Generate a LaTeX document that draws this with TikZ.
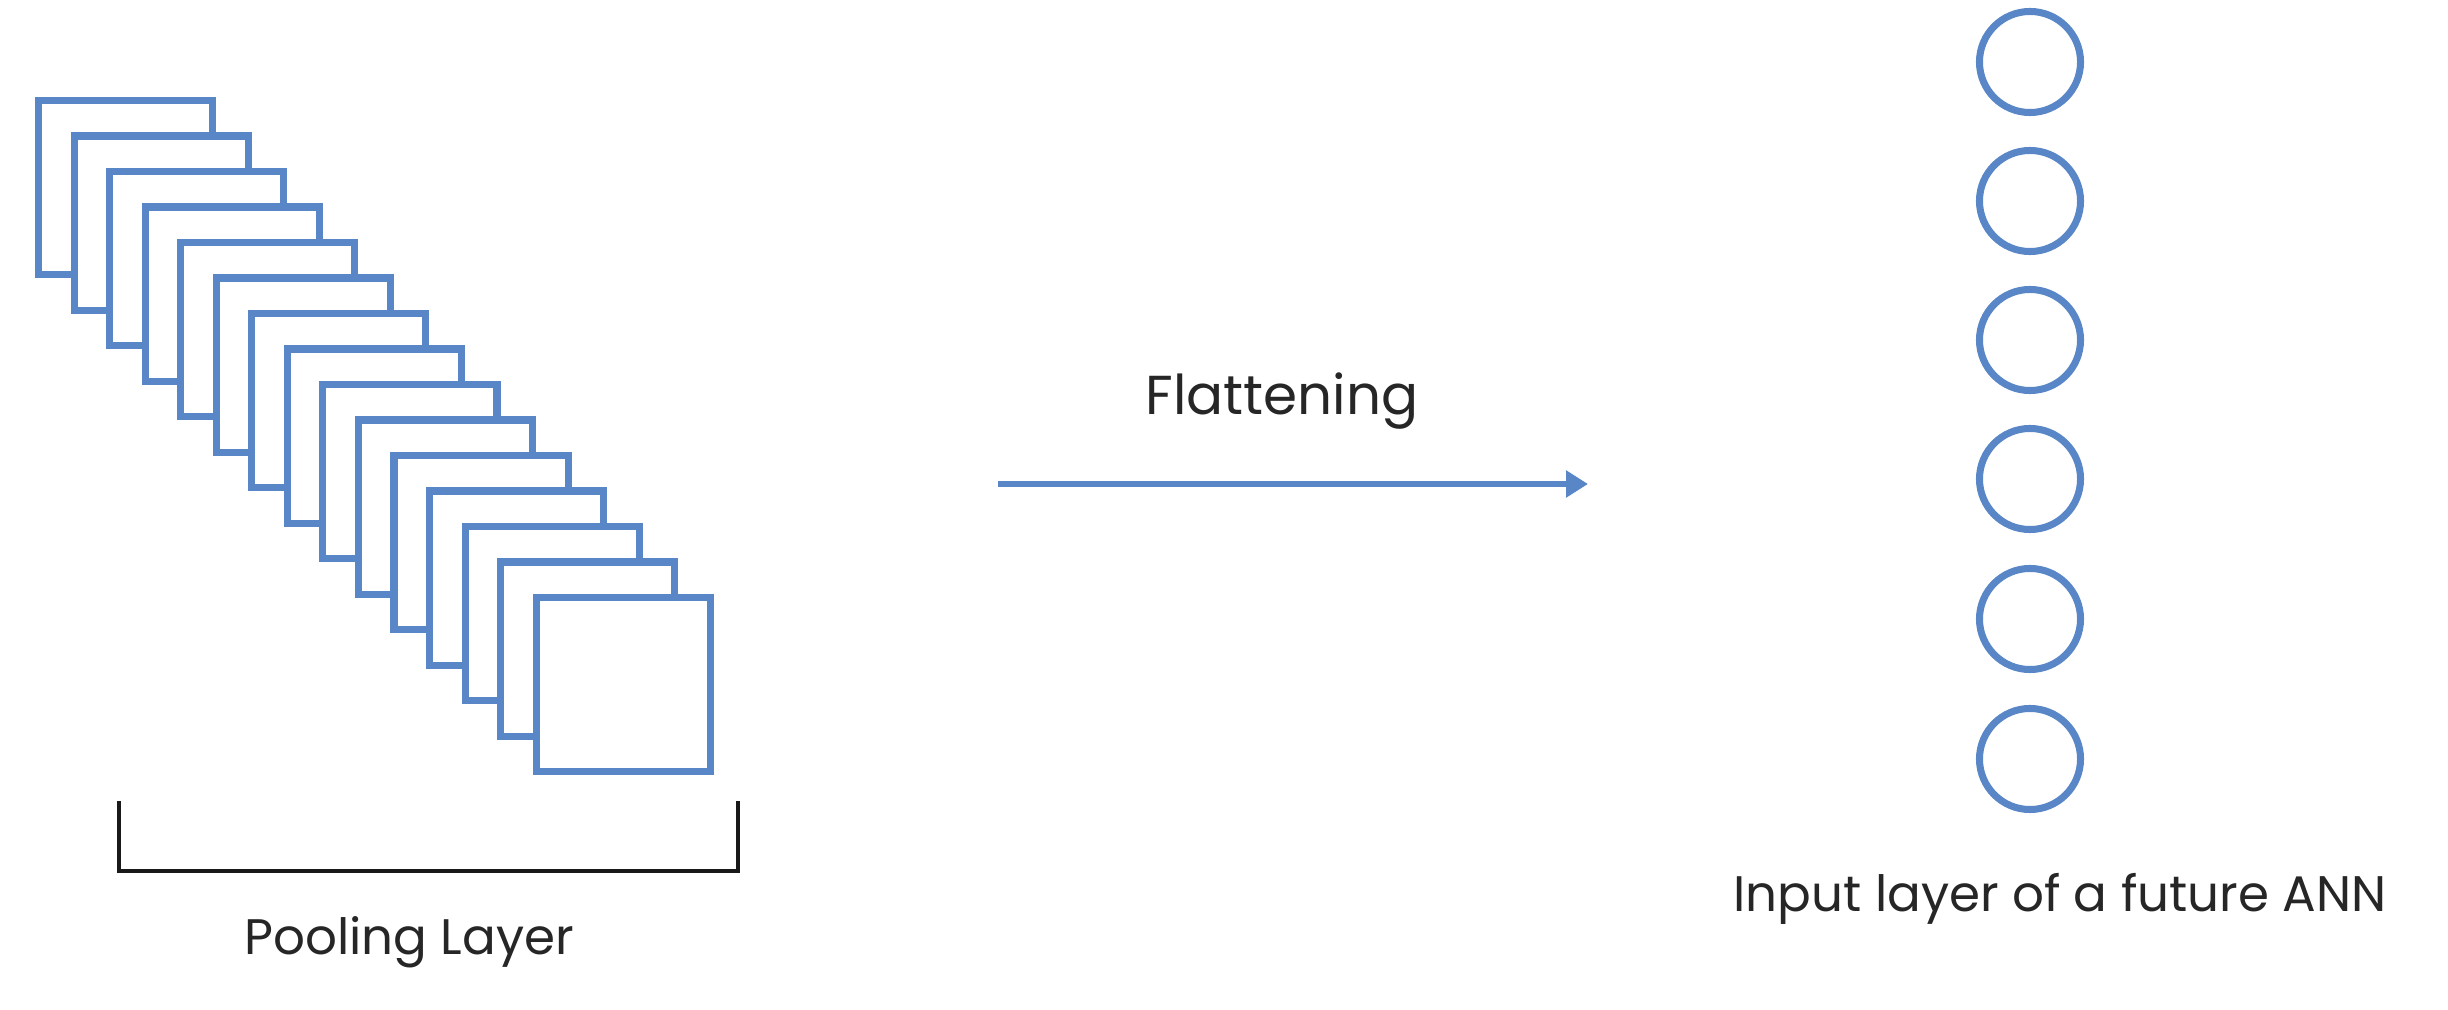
\documentclass[tikz,border=0pt]{standalone}
\usepackage{fontspec}
\setmainfont{Poppins}
\usetikzlibrary{positioning, arrows.meta, calc}
\definecolor{mapblue}{RGB}{88,134,198}

\begin{document}
\begin{tikzpicture}[
    x=0.01cm, y=-0.01cm,
    % Custom styles for the feature maps, the neurons and the captions
    fmap/.style={draw=mapblue, fill=white, line width=2pt, rectangle,
        minimum size=1.74cm, inner sep=0pt, outer sep=0pt, anchor=north west},
    neuron/.style={draw=mapblue, fill=white, line width=2pt, circle,
        minimum size=1.01cm, inner sep=0pt},
    caption/.style={font=\fontsize{14.2}{17}\selectfont, anchor=base, text=black!85},
    flow/.style={mapblue, line width=1.8pt, -{Triangle[length=0.22cm, width=0.26cm]}},
    brace_line/.style={black!90, line width=1pt}
]
\useasboundingbox (0,0) rectangle (2448,1010);

% ==========================================
% LEFT: POOLING LAYER (stack of feature maps)
% ==========================================
% 1. The maps, drawn back to front
\foreach \i in {1,...,15} {
    \node[fmap] (map\i) at ({38.5+35.55*(\i-1)}, {100.5+35.5*(\i-1)}) {};
}

% 2. The bracket under the stack
\coordinate (br_left) at (119,801);
\coordinate (br_right) at (738,801);
\draw[brace_line] (br_left) -- ++(0,70) -| (br_right);

% 3. The caption
\node[caption] (pool_title) at (409,954) {Pooling Layer};

% ==========================================
% MIDDLE: FLATTENING ARROW
% ==========================================
\coordinate (flat_start) at (998,484);
\coordinate (flat_end) at (1588,484);
\draw[flow] (flat_start) -- (flat_end);
\node[caption, font=\fontsize{15.6}{18}\selectfont] (flat_title) at (1282,415) {Flattening};

% ==========================================
% RIGHT: INPUT LAYER OF THE ANN
% ==========================================
\foreach \y [count=\k] in {62,201,340,479,619,759} {
    \node[neuron] (n\k) at (2030,\y) {};
}
\node[caption] (ann_title) at (2060,911) {Input layer of a future ANN};

\end{tikzpicture}
\end{document}
